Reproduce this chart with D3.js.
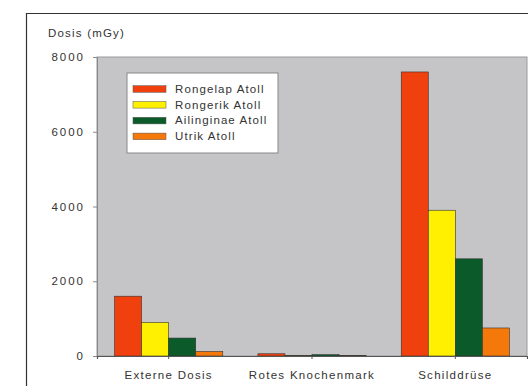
<!DOCTYPE html>
<html><head><meta charset="utf-8">
<script src="https://cdn.jsdelivr.net/npm/d3@7"></script>
<style>body{margin:0;background:#fff;} svg{display:block;}</style>
</head><body><svg id="c" width="528" height="386"></svg>
<script>
const categories = ["Externe Dosis", "Rotes Knochenmark", "Schilddrüse"];
const seriesNames = ["Rongelap Atoll", "Rongerik Atoll", "Ailinginae Atoll", "Utrik Atoll"];
const rongelap = [1600, 60, 7600];
const rongerik = [900, 15, 3900];
const ailinginae = [480, 35, 2600];
const utrik = [120, 15, 750];
const yTicks = [0, 2000, 4000, 6000, 8000];
const colors = ["#f0400e", "#ffef00", "#0b5a2a", "#f5780a"];
const series = [rongelap, rongerik, ailinginae, utrik];

const svg = d3.select("#c");
const font = "'Liberation Sans', Arial, sans-serif";
const L = 97, R = 527, T = 57, B = 356;

// outer frame
svg.append("path").attr("d", `M26.5,386 V13.5 H528`).attr("fill","none").attr("stroke","#333").attr("stroke-width",1.2);

// plot background
svg.append("rect").attr("x", L).attr("y", T).attr("width", R-L).attr("height", B-T)
  .attr("fill", "#c5c5c7").attr("stroke", "#999").attr("stroke-width", 1);

const y = d3.scaleLinear().domain([0, 8000]).range([B, T]);
const x0 = d3.scaleBand().domain(categories).range([L, R]).paddingInner(0.245).paddingOuter(0.1225);
const x1 = d3.scaleBand().domain(d3.range(4)).range([0, x0.bandwidth()]);

// bars
categories.forEach((c, ci) => {
  series.forEach((s, si) => {
    svg.append("rect")
      .attr("x", x0(c) + x1(si))
      .attr("y", y(s[ci]))
      .attr("width", x1.bandwidth())
      .attr("height", B - y(s[ci]))
      .attr("fill", colors[si])
      .attr("stroke", "#333").attr("stroke-width", 0.6);
  });
});

function styleText(sel, ls) {
  sel.attr("font-family", font).attr("font-size", 11.5).attr("fill", "#333")
     .attr("letter-spacing", ls);
}

// y axis
const yAxis = d3.axisLeft(y).tickValues(yTicks).tickSize(4).tickPadding(8).tickFormat(d3.format("d"));
const ga = svg.append("g").attr("transform", `translate(${L},0)`).call(yAxis);
ga.select(".domain").attr("stroke", "#888");
ga.selectAll(".tick line").attr("stroke", "#888");
styleText(ga.selectAll("text"), 2);
ga.selectAll("text").attr("dx", 0);

// x axis
const xAxis = d3.axisBottom(x0).tickSize(3).tickPadding(12);
const gx = svg.append("g").attr("transform", `translate(0,${B})`).call(xAxis);
gx.select(".domain").attr("stroke", "#555").attr("stroke-width", 1.2);
gx.selectAll(".tick line").attr("stroke", "#555");
styleText(gx.selectAll("text"), 1.3);

// y title
styleText(svg.append("text").attr("x", 48).attr("y", 37).text("Dosis (mGy)"), 1.2);

// legend
const lg = svg.append("g");
lg.append("rect").attr("x", 127).attr("y", 73).attr("width", 151).attr("height", 80)
  .attr("fill", "#fff").attr("stroke", "#888");
seriesNames.forEach((n, i) => {
  const yy = 89 + i * 15.8;
  lg.append("rect").attr("x", 133).attr("y", yy - 3.3).attr("width", 33).attr("height", 6.6)
    .attr("fill", colors[i]).attr("stroke", "#555").attr("stroke-width", 0.5);
  styleText(lg.append("text").attr("x", 175).attr("y", yy + 3.8).text(n), 1.1);
});
</script></body></html>
